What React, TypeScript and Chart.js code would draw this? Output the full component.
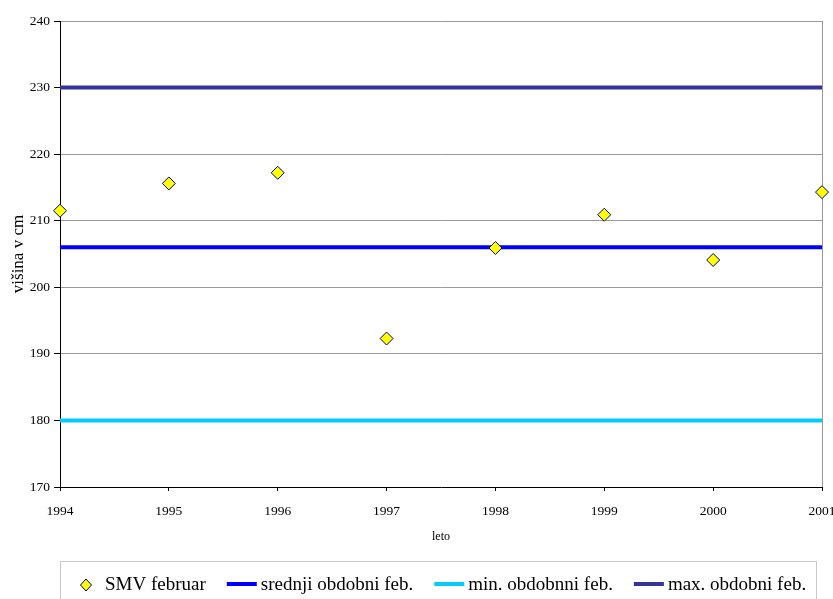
import React, { useEffect, useRef } from "react";
import { Chart, registerables } from "chart.js";

Chart.register(...registerables);

const years = [1994, 1995, 1996, 1997, 1998, 1999, 2000, 2001];
const smvFebruar = [211.5, 215.6, 217.2, 192.3, 205.9, 210.9, 204.1, 214.3];
const srednjiObdobni = 206;
const minObdobni = 180;
const maxObdobni = 230;
const yMin = 170;
const yMax = 240;
const yStep = 10;

const labels = {
  smv: "SMV februar",
  srednji: "srednji obdobni feb.",
  min: "min. obdobnni feb.",
  max: "max. obdobni feb.",
};

const FONT = "'Liberation Serif', 'Times New Roman', serif";

const flatLine = (v: number) => [
  { x: years[0], y: v },
  { x: years[years.length - 1], y: v },
];

const boxLegend = {
  id: "boxLegend",
  afterDraw(chart: any) {
    const ctx = chart.ctx as CanvasRenderingContext2D;
    ctx.save();
    ctx.strokeStyle = "#c8c8c8";
    ctx.lineWidth = 1;
    ctx.strokeRect(60.5, 561.5, 756, 60);
    ctx.font = `19px ${FONT}`;
    ctx.textBaseline = "middle";
    ctx.fillStyle = "#000";
    const cy = 585;
    let x = 80;
    chart.data.datasets.forEach((ds: any) => {
      let tx: number;
      if (ds.type === "scatter") {
        const cx = x + 6;
        ctx.beginPath();
        ctx.moveTo(cx, cy - 6);
        ctx.lineTo(cx + 5.5, cy);
        ctx.lineTo(cx, cy + 6);
        ctx.lineTo(cx - 5.5, cy);
        ctx.closePath();
        ctx.fillStyle = ds.backgroundColor;
        ctx.fill();
        ctx.strokeStyle = ds.borderColor;
        ctx.lineWidth = 1;
        ctx.stroke();
        tx = x + 25;
      } else {
        ctx.beginPath();
        ctx.moveTo(x, cy - 1);
        ctx.lineTo(x + 30, cy - 1);
        ctx.strokeStyle = ds.borderColor;
        ctx.lineWidth = 4;
        ctx.stroke();
        tx = x + 34;
      }
      ctx.fillStyle = "#000";
      ctx.fillText(ds.label, tx, cy);
      x = tx + ctx.measureText(ds.label).width + 21;
    });
    ctx.restore();
  },
};

export default function App() {
  const ref = useRef<HTMLCanvasElement>(null);

  useEffect(() => {
    if (!ref.current) return;
    const chart = new Chart(ref.current, {
      type: "scatter",
      data: {
        datasets: [
          {
            type: "scatter",
            label: labels.smv,
            data: years.map((y, i) => ({ x: y, y: smvFebruar[i] })),
            pointStyle: "rectRot",
            pointRadius: 6.5,
            backgroundColor: "#ffff00",
            borderColor: "#000080",
            borderWidth: 1,
            clip: false,
          } as any,
          {
            type: "line",
            label: labels.srednji,
            data: flatLine(srednjiObdobni),
            borderColor: "#0000ff",
            backgroundColor: "#0000ff",
            borderWidth: 4,
            pointRadius: 0,
            showLine: true,
          },
          {
            type: "line",
            label: labels.min,
            data: flatLine(minObdobni),
            borderColor: "#00ccff",
            backgroundColor: "#00ccff",
            borderWidth: 4,
            pointRadius: 0,
            showLine: true,
          },
          {
            type: "line",
            label: labels.max,
            data: flatLine(maxObdobni),
            borderColor: "#333399",
            backgroundColor: "#333399",
            borderWidth: 4,
            pointRadius: 0,
            showLine: true,
          },
        ],
      },
      options: {
        animation: false,
        responsive: false,
        devicePixelRatio: 1,
        events: [],
        layout: { padding: { top: 21, right: 0, left: 0, bottom: 0 } },
        plugins: {
          legend: { display: false },
          tooltip: { enabled: false },
        },
        scales: {
          x: {
            type: "linear",
            min: years[0],
            max: years[years.length - 1],
            afterFit: (s: any) => {
              s.height = 112;
              s.paddingLeft = 0;
              s.paddingRight = 11;
            },
            ticks: {
              stepSize: 1,
              color: "#000",
              padding: 12,
              maxRotation: 0,
              font: { family: FONT, size: 13.5 },
              callback: (v: any) => String(v),
            },
            grid: {
              drawOnChartArea: true,
              color: (c: any) =>
                c.tick && c.tick.value === years[years.length - 1] ? "#999999" : "rgba(0,0,0,0)",
              tickColor: "#000",
              tickLength: 4,
              lineWidth: 1,
            },
            border: { color: "#000", width: 1 },
            title: {
              display: true,
              text: "leto",
              color: "#000",
              font: { family: FONT, size: 12 },
              padding: { top: 0, bottom: 55 },
            },
          },
          y: {
            type: "linear",
            min: yMin,
            max: yMax,
            afterFit: (s: any) => {
              s.width = 60;
            },
            ticks: {
              stepSize: yStep,
              color: "#000",
              padding: 4,
              font: { family: FONT, size: 13.5 },
            },
            grid: {
              color: (c: any) =>
                c.tick && c.tick.value === yMin ? "rgba(0,0,0,0)" : "#999999",
              tickColor: "#000",
              tickLength: 6,
              lineWidth: 1,
            },
            border: { color: "#000", width: 1 },
            title: {
              display: true,
              text: "višina v cm",
              color: "#000",
              font: { family: FONT, size: 17 },
              padding: { top: 8, bottom: 0 },
            },
          },
        },
      },
      plugins: [boxLegend],
    } as any);
    return () => chart.destroy();
  }, []);

  return (
    <div style={{ position: "absolute", left: 0, top: 0, width: 833, height: 599, background: "#fff" }}>
      <canvas ref={ref} width={833} height={599} style={{ width: 833, height: 599, display: "block" }} />
    </div>
  );
}
